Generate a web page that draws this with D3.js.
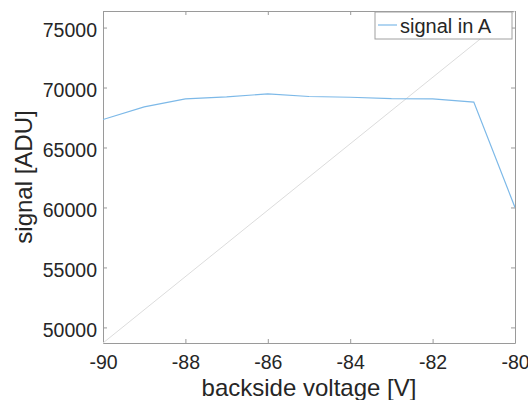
<!DOCTYPE html>
<html>
<head>
<meta charset="utf-8">
<script src="https://cdn.jsdelivr.net/npm/d3@7"></script>
<style>
  body { margin: 0; background: #fff; }
  text { font-family: Arial, "Liberation Sans", sans-serif; fill: #262626; }
</style>
</head>
<body>
<div id="chart"></div>
<script>
// backside voltage [V]
const voltage = [-90, -89, -88, -87, -86, -85, -84, -83, -82, -81, -80];
// signal in A [ADU]
const signalA = [67330, 68380, 69050, 69220, 69470, 69250, 69190, 69080, 69050, 68780, 60000];
// diagonal guide line across the axes
const guideX = [-90, -80];
const guideY = [48700, 76380];

const xTicks = [-90, -88, -86, -84, -82, -80];
const yTicks = [50000, 55000, 60000, 65000, 70000, 75000];

const W = 528, H = 400;
const margin = { top: 11, right: 13, bottom: 57, left: 103 };
const width = W - margin.left - margin.right,
  height = H - margin.top - margin.bottom;

const svg = d3.select("#chart")
  .append("svg")
  .attr("width", W)
  .attr("height", H);

const g = svg.append("g")
  .attr("transform", "translate(" + margin.left + "," + margin.top + ")");

const x = d3.scaleLinear().domain([-90, -80]).range([0, width]);
const y = d3.scaleLinear().domain([48700, 76380]).range([height, 0]);

// clip
svg.append("defs").append("clipPath").attr("id", "clip")
  .append("rect").attr("width", width).attr("height", height);

const axisColor = "#9a9a9a";
const plain = d => String(d);

// axes with inward ticks
const xAxis = g.append("g")
  .attr("transform", "translate(0," + height + ")")
  .call(d3.axisBottom(x).tickValues(xTicks).tickSizeInner(-4).tickSizeOuter(0).tickPadding(12).tickFormat(plain));
const xTop = g.append("g")
  .call(d3.axisTop(x).tickValues(xTicks).tickSizeInner(-4).tickSizeOuter(0).tickFormat(""));
const yAxis = g.append("g")
  .call(d3.axisLeft(y).tickValues(yTicks).tickSizeInner(-4).tickSizeOuter(0).tickPadding(6).tickFormat(plain));
const yRight = g.append("g")
  .attr("transform", "translate(" + width + ",0)")
  .call(d3.axisRight(y).tickValues(yTicks).tickSizeInner(-4).tickSizeOuter(0).tickFormat(""));

[xAxis, xTop, yAxis, yRight].forEach(a => {
  a.selectAll("path").attr("stroke", axisColor);
  a.selectAll("line").attr("stroke", axisColor);
});
xAxis.selectAll("text").style("font-size", "19.5px").attr("fill", "#262626").attr("dy", "0.71em");
yAxis.selectAll("text").style("font-size", "19.5px").attr("fill", "#262626").attr("dy", "0.45em");

// guide diagonal
const line = d3.line().x(d => x(d[0])).y(d => y(d[1]));
g.append("path")
  .attr("clip-path", "url(#clip)")
  .datum(d3.zip(guideX, guideY))
  .attr("fill", "none")
  .attr("stroke", "#dcdcdc")
  .attr("stroke-width", 1)
  .attr("d", line);

// signal line
g.append("path")
  .attr("clip-path", "url(#clip)")
  .datum(d3.zip(voltage, signalA))
  .attr("fill", "none")
  .attr("stroke", "#7db9e8")
  .attr("stroke-width", 1.2)
  .attr("d", line);

// legend
const leg = g.append("g").attr("transform", "translate(" + (375 - margin.left) + "," + (12 - margin.top) + ")");
leg.append("rect")
  .attr("width", 137).attr("height", 27)
  .attr("fill", "#fff").attr("stroke", "#a0a0a0").attr("stroke-width", 1);
leg.append("line")
  .attr("x1", 3).attr("x2", 22).attr("y1", 13).attr("y2", 13)
  .attr("stroke", "#7db9e8").attr("stroke-width", 1.2);
leg.append("text")
  .attr("x", 25).attr("y", 21)
  .style("font-size", "20px")
  .text("signal in A");

// axis labels
svg.append("text")
  .attr("x", margin.left + width / 2)
  .attr("y", 396)
  .attr("text-anchor", "middle")
  .style("font-size", "24px")
  .text("backside voltage [V]");

svg.append("text")
  .attr("transform", "translate(32," + (margin.top + height / 2) + ") rotate(-90)")
  .attr("text-anchor", "middle")
  .style("font-size", "24px")
  .text("signal [ADU]");
</script>
</body>
</html>
